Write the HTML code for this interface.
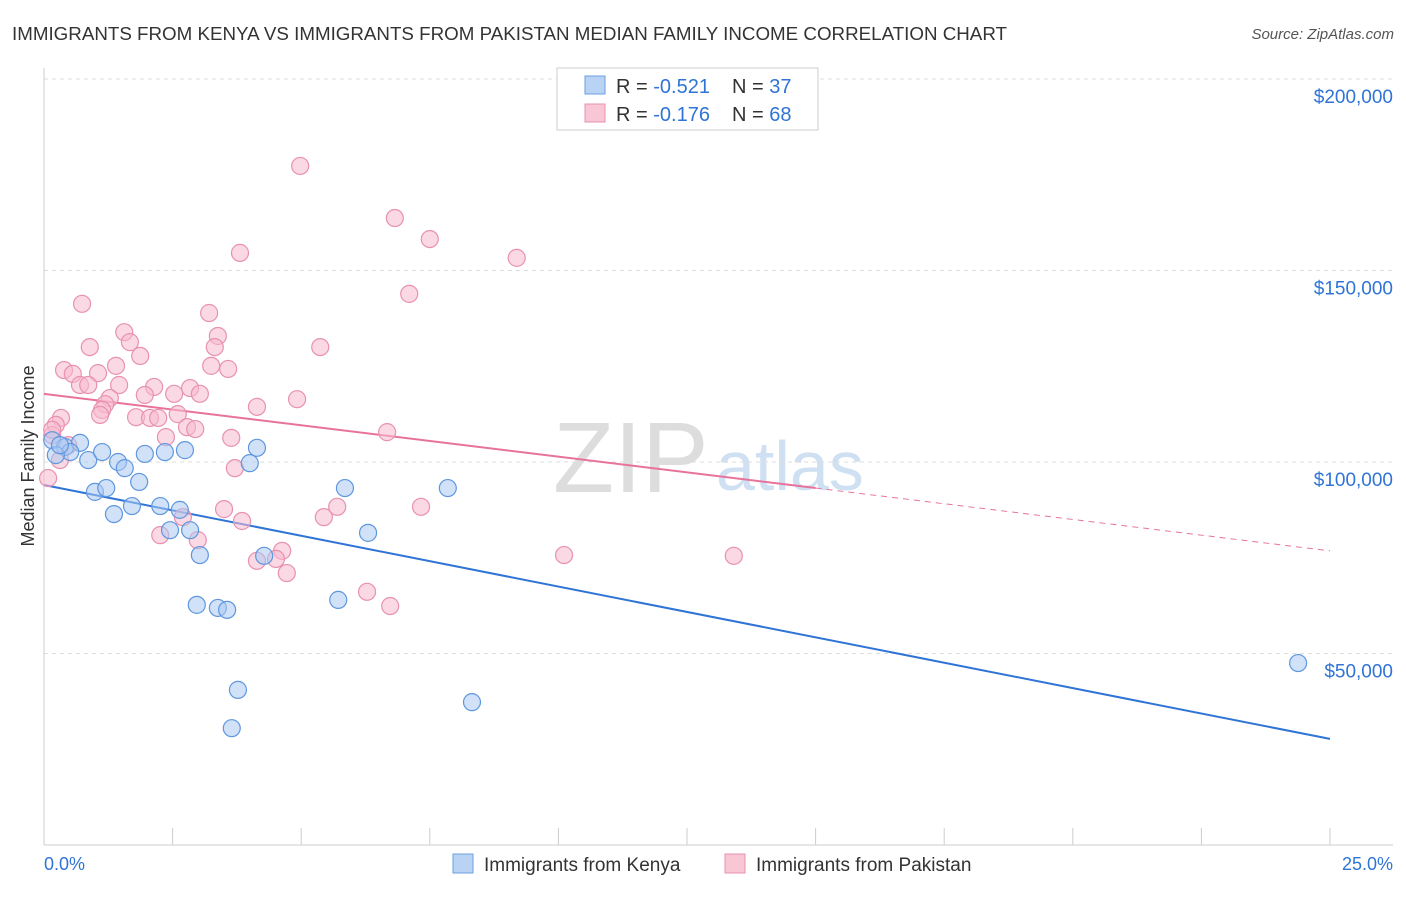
<!DOCTYPE html>
<html><head><meta charset="utf-8"><style>
body{margin:0;background:#fff;font-family:"Liberation Sans",sans-serif;}
svg text{font-family:"Liberation Sans",sans-serif;}
</style></head><body>
<svg id="chart" width="1406" height="892" viewBox="0 0 1406 892">
<text x="12" y="40" font-size="18" fill="#333" textLength="995" lengthAdjust="spacingAndGlyphs">IMMIGRANTS FROM KENYA VS IMMIGRANTS FROM PAKISTAN MEDIAN FAMILY INCOME CORRELATION CHART</text>
<text x="1394" y="39" font-size="15" fill="#555" font-style="italic" text-anchor="end">Source: ZipAtlas.com</text>
<text x="553" y="492" font-size="100" fill="#ddd" font-family="Liberation Serif">ZIP</text>
<text x="716" y="490" font-size="70" fill="#cfe0f3">atlas</text>
<text transform="translate(34,456) rotate(-90)" font-size="18" fill="#333" text-anchor="middle">Median Family Income</text>
<g id="grid"></g><g id="axes"></g><g id="lines"></g><g id="pts"></g>
<g>
<rect x="557" y="68" width="261" height="62" fill="#fff" stroke="#ccc"/>
<rect x="585" y="76" width="20" height="18" fill="#b9d3f5" stroke="#6a9fe0"/>
<rect x="585" y="104" width="20" height="18" fill="#f9c6d6" stroke="#e891b0"/>
<text x="616" y="93" font-size="20" fill="#333">R = <tspan fill="#2f74d6">-0.521</tspan></text>
<text x="732" y="93" font-size="20" fill="#333">N = <tspan fill="#2f74d6">37</tspan></text>
<text x="616" y="121" font-size="20" fill="#333">R = <tspan fill="#2f74d6">-0.176</tspan></text>
<text x="732" y="121" font-size="20" fill="#333">N = <tspan fill="#2f74d6">68</tspan></text>
</g>
<g>
<rect x="453" y="854" width="20" height="19" fill="#b9d3f5" stroke="#6a9fe0"/>
<text x="484" y="871" font-size="19" fill="#333">Immigrants from Kenya</text>
<rect x="725" y="854" width="20" height="19" fill="#f9c6d6" stroke="#e891b0"/>
<text x="756" y="871" font-size="19" fill="#333">Immigrants from Pakistan</text>
</g>
<text x="44" y="870" font-size="18" fill="#2f74d6">0.0%</text>
<text x="1393" y="870" font-size="18" fill="#2f74d6" text-anchor="end">25.0%</text>
</svg>
<script>
const yTicks=[50000,100000,150000,200000];
const yTickLabels=["$50,000","$100,000","$150,000","$200,000"];
const xTicks=[0,2.5,5,7.5,10,12.5,15,17.5,20,22.5,25];
const kenyaX=[0.16,0.41,0.70,0.51,0.86,1.13,1.44,1.57,0.99,1.21,1.36,1.71,1.85,1.96,2.26,2.35,2.45,2.64,2.74,2.84,3.03,2.97,3.38,3.56,3.77,3.65,4.00,4.14,4.28,5.72,5.85,6.30,7.85,8.32,24.38,0.23,0.31];
const kenyaY=[105700,103900,105000,102600,100500,102600,100000,98400,92200,93200,86400,88500,94800,102100,88500,102600,82200,87500,103100,82200,75700,62700,61900,61400,40500,30500,99700,103700,75500,64000,93200,81500,93200,37300,47500,101800,104400];
const pakX=[4.98,6.82,7.50,9.19,3.81,7.10,0.74,3.21,1.56,3.38,1.67,0.89,3.32,5.37,1.87,1.40,3.58,0.39,0.56,1.05,3.25,0.70,0.86,1.46,2.14,2.84,1.96,2.53,1.28,1.19,3.03,4.92,4.14,1.13,1.79,2.06,2.60,2.22,0.33,2.78,2.94,0.23,0.16,2.37,3.64,6.67,0.08,3.71,2.70,3.50,3.85,5.44,5.70,7.33,2.26,2.99,4.63,4.14,4.51,4.72,10.11,13.41,6.28,6.73,0.16,0.47,0.31,1.09];
const pakY=[177300,163700,158200,153300,154600,143900,141300,138900,133900,132900,131300,130000,130000,130000,127700,125100,124300,124000,123000,123200,125100,120100,120100,120100,119600,119300,117500,117800,116700,115100,117800,116400,114400,113600,111700,111500,112500,111500,111500,109100,108600,109700,107000,106500,106300,107800,95800,98400,85600,87700,84600,85600,88300,88300,80900,79600,76800,74200,74700,71000,75700,75500,66100,62400,108400,104400,100500,112300];
const kenyaTrend=[94000,27700];
const pakTrend=[117800,76800];
const pakSolidEnd=15;

const NS="http://www.w3.org/2000/svg";
const xs=p=>44+p*51.44;
const ys=v=>462-(v-100000)*191.5/50000;
function mk(parent,tag,attrs){const e=document.createElementNS(NS,tag);for(const k in attrs)e.setAttribute(k,attrs[k]);document.getElementById(parent).appendChild(e);return e;}

yTicks.forEach((v,i)=>{
  const l=mk('grid','line',{x1:44,x2:1393,y1:ys(v),y2:ys(v),stroke:'#ddd','stroke-dasharray':'4,4'});
  
  
  const t=mk('grid','text',{x:1393,y:ys(v)+24,'font-size':19,fill:'#2f74d6','text-anchor':'end'});
  t.textContent=yTickLabels[i];
  
  
});
const topGrid=mk('grid','line',{x1:44,x2:1393,y1:79,y2:79,stroke:'#ddd','stroke-dasharray':'4,4'});


const xa=mk('axes','line',{x1:44,x2:1393,y1:845,y2:845,stroke:'#ccc'});


const ya=mk('axes','line',{x1:44,x2:44,y1:68,y2:845,stroke:'#ccc'});


xTicks.forEach(p=>{
  const t=mk('axes','line',{x1:xs(p),x2:xs(p),y1:828,y2:845,stroke:'#ccc'});
  
  
});

function trend(tr,end,color,name){
  const at=p=>tr[0]+(tr[1]-tr[0])*p/25;
  const s=mk('lines','line',{x1:xs(0),y1:ys(at(0)),x2:xs(end),y2:ys(at(end)),stroke:color,'stroke-width':2});
  
  
  if(end<25){
    const d=mk('lines','line',{x1:xs(end),y1:ys(at(end)),x2:xs(25),y2:ys(at(25)),stroke:color,'stroke-width':1,'stroke-dasharray':'6,5'});
    
    
  }
}
function pts(X,Y,fill,stroke,name){
  X.forEach((p,i)=>{
    const c=mk('pts','circle',{cx:xs(p),cy:ys(Y[i]),r:8.5,fill:fill,'fill-opacity':0.55,stroke:stroke,'stroke-width':1.2});
    
    
  });
}
pts(pakX,pakY,'#f7b9cd','#e891b0','pakistan');
pts(kenyaX,kenyaY,'#a9c8f2','#5f97de','kenya');
trend(kenyaTrend,25,'#2f74d6','kenya');
trend(pakTrend,pakSolidEnd,'#e8739a','pakistan');
</script>
</body></html>
